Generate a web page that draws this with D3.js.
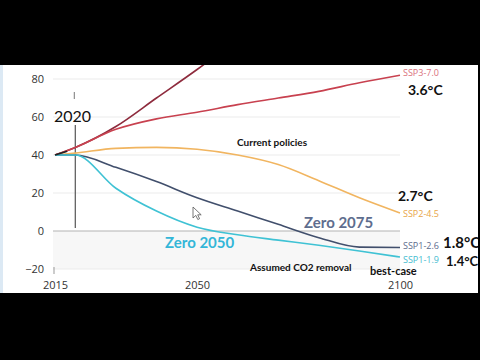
<!DOCTYPE html>
<html>
<head>
<meta charset="utf-8">
<script src="https://cdn.jsdelivr.net/npm/d3@7"></script>
<style>
  body { margin: 0; background: #000; }
  svg { display: block; }
</style>
</head>
<body>
<svg></svg>
<script>
const width = 480;
const height = 360;

// CO2 emissions, GtCO2/yr
const years   = [2015, 2020, 2030, 2040, 2050, 2060, 2070, 2080, 2090, 2100];
const ssp585  = [40, 44, 55, 70, 85, 101, 116, 125, 128, 130];
const ssp370  = [40, 44, 53.5, 59, 62.5, 66.5, 70, 73.5, 78, 82];
const ssp245  = [40, 41, 43.5, 44, 43, 40, 35, 26.5, 17.5, 9.5];
const ssp126  = [40, 40, 33.5, 26, 17.5, 10.5, 3.5, -3.5, -8.5, -8.7];
const ssp119  = [40, 40, 22.5, 10.5, 2, -2, -4.8, -7.5, -10.5, -13.7];
const histYears = [2015, 2018];
const histValues = [40, 42];

const yTicks = [-20, 0, 20, 40, 60, 80];
const xTicks = [2015, 2050, 2100];

const series = [
  { id: "ssp585", values: ssp585, color: "#8e2b3d" },
  { id: "ssp370", values: ssp370, color: "#c8414f", label: "SSP3-7.0", labelColor: "#d9707c", temp: "3.6°C" },
  { id: "ssp245", values: ssp245, color: "#f1b560", label: "SSP2-4.5", labelColor: "#e8a548", temp: "2.7°C" },
  { id: "ssp126", values: ssp126, color: "#414f6c", label: "SSP1-2.6", labelColor: "#5d6b8c", temp: "1.8°C" },
  { id: "ssp119", values: ssp119, color: "#3fc2d4", label: "SSP1-1.9", labelColor: "#45bcd0", temp: "1.4°C" }
];

const svg = d3.select('svg')
  .attr('width', width)
  .attr('height', height);

// white page area of the screenshot
svg.append('rect')
  .attr('x', 0).attr('y', 65)
  .attr('width', 478).attr('height', 228)
  .attr('fill', 'white');
svg.append('rect')
  .attr('x', 0).attr('y', 65)
  .attr('width', 3).attr('height', 228)
  .attr('fill', '#dce9f4');

const x = d3.scaleLinear().domain([2015, 2100]).range([55, 400]);
const y = d3.scaleLinear().domain([-20, 80]).range([269, 79]);

const gridLeft = 53;
const gridRight = x(2100);

// shaded band below zero
svg.append('rect')
  .attr('x', gridLeft)
  .attr('y', y(0))
  .attr('width', gridRight - gridLeft)
  .attr('height', y(-20) - y(0))
  .attr('fill', '#f7f7f7');

// gridlines
svg.append('g')
  .selectAll('line')
  .data(yTicks)
  .enter().append('line')
    .attr('x1', gridLeft)
    .attr('x2', gridRight)
    .attr('y1', d => y(d))
    .attr('y2', d => y(d))
    .attr('stroke', d => d === 0 ? '#b4b4b4' : '#ebebeb')
    .attr('stroke-width', d => d === 0 ? 1.2 : 1);

// y axis labels
const yAxis = svg.append('g')
  .attr('transform', 'translate(44,0)')
  .call(d3.axisLeft(y).tickValues(yTicks).tickSize(0).tickPadding(0));
yAxis.select('.domain').remove();
yAxis.selectAll('text')
  .attr('font-family', "'Open Sans', sans-serif")
  .attr('font-size', 11)
  .attr('fill', '#333');

// x axis labels
const xAxis = svg.append('g')
  .attr('transform', 'translate(0,281.5)')
  .call(d3.axisBottom(x).tickValues(xTicks).tickSize(0).tickPadding(0).tickFormat(d3.format('d')));
xAxis.select('.domain').remove();
xAxis.selectAll('text')
  .attr('font-family', "'Open Sans', sans-serif")
  .attr('font-size', 11)
  .attr('fill', '#333');

// small tick at 2015
svg.append('line')
  .attr('x1', x(2015) - 1).attr('x2', x(2015) - 1)
  .attr('y1', y(-20) - 2).attr('y2', y(-20) + 5)
  .attr('stroke', '#999');

// 2020 marker
svg.append('line')
  .attr('x1', x(2020)).attr('x2', x(2020))
  .attr('y1', 125).attr('y2', y(0) - 3)
  .attr('stroke', '#555').attr('stroke-width', 1.2);
svg.append('line')
  .attr('x1', x(2020) - 1).attr('x2', x(2020) - 1)
  .attr('y1', 92).attr('y2', 99)
  .attr('stroke', '#777').attr('stroke-width', 1);
svg.append('text')
  .attr('x', 54).attr('y', 122)
  .attr('font-family', "Lato, sans-serif")
  .attr('font-size', 16)
  .attr('fill', '#111')
  .text('2020');

// scenario lines
const line = d3.line()
  .defined(d => d[1] !== null)
  .x(d => x(d[0]))
  .y(d => y(d[1]))
  .curve(d3.curveMonotoneX);

svg.append('g')
  .selectAll('path')
  .data(series)
  .enter().append('path')
    .attr('d', s => line(years.map((yr, i) => [yr, s.values[i]])))
    .attr('fill', 'none')
    .attr('stroke', s => s.color)
    .attr('stroke-width', 1.6);

svg.append('path')
  .attr('d', line(histYears.map((yr, i) => [yr, histValues[i]])))
  .attr('fill', 'none')
  .attr('stroke', '#222')
  .attr('stroke-width', 1.6);

// end labels
const endLabels = series.filter(s => s.label);
const labelY = { ssp370: 76, ssp245: 217, ssp126: 249, ssp119: 263 };
const tempPos = {
  ssp370: [408, 95, 14],
  ssp245: [398, 201, 14],
  ssp126: [443, 248, 15],
  ssp119: [446, 266, 13]
};

svg.append('g')
  .selectAll('text')
  .data(endLabels)
  .enter().append('text')
    .attr('x', x(2100) + 3)
    .attr('y', s => labelY[s.id])
    .attr('font-family', "'Open Sans', sans-serif")
    .attr('font-size', 9)
    .attr('fill', s => s.labelColor)
    .text(s => s.label);

svg.append('g')
  .selectAll('text')
  .data(endLabels)
  .enter().append('text')
    .attr('x', s => tempPos[s.id][0])
    .attr('y', s => tempPos[s.id][1])
    .attr('font-family', "Lato, sans-serif")
    .attr('font-weight', 'bold')
    .attr('font-size', s => tempPos[s.id][2])
    .attr('fill', '#111')
    .text(s => s.temp);

// annotations
const notes = [
  { text: "Current policies", x: 237, y: 146, size: 10, color: "#111" },
  { text: "Zero 2075", x: 304, y: 228, size: 15, color: "#5e6d8e" },
  { text: "Zero 2050", x: 165, y: 248, size: 15, color: "#33b6d8" },
  { text: "Assumed CO2 removal", x: 250, y: 271, size: 10, color: "#111" },
  { text: "best-case", x: 370, y: 274.5, size: 11, color: "#111" }
];

svg.append('g')
  .selectAll('text')
  .data(notes)
  .enter().append('text')
    .attr('x', d => d.x)
    .attr('y', d => d.y)
    .attr('font-family', "Lato, sans-serif")
    .attr('font-weight', 'bold')
    .attr('font-size', d => d.size)
    .attr('fill', d => d.color)
    .text(d => d.text);

// mouse pointer in the screenshot
svg.append('path')
  .attr('d', 'M0,0 L0,11 L2.8,8.4 L4.8,12.5 L6.6,11.7 L4.7,7.8 L8.2,7.8 Z')
  .attr('transform', 'translate(193,207)')
  .attr('fill', 'white')
  .attr('stroke', '#555')
  .attr('stroke-width', 0.8);

// black letterbox on top (covers the runaway line)
svg.append('rect')
  .attr('x', 0).attr('y', 0)
  .attr('width', width).attr('height', 65)
  .attr('fill', '#000');
svg.append('rect')
  .attr('x', 0).attr('y', 293)
  .attr('width', width).attr('height', 67)
  .attr('fill', '#000');
svg.append('rect')
  .attr('x', 478).attr('y', 0)
  .attr('width', 2).attr('height', height)
  .attr('fill', '#000');
</script>
</body>
</html>
